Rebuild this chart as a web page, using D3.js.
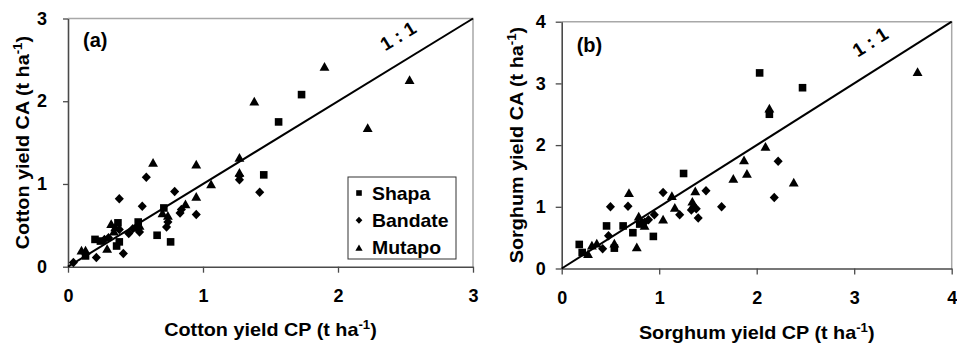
<!DOCTYPE html>
<html>
<head>
<meta charset="utf-8" />
<title>CA vs CP yields</title>
<script src="https://cdn.jsdelivr.net/npm/d3@7"></script>
<style>
  body { margin: 0; background: #fff; }
  text { font-family: Arial, "Liberation Sans", sans-serif; font-weight: bold; fill: #000; }
</style>
</head>
<body>
<svg id="chart" width="957" height="344"></svg>
<script>
// data: [CP yield, CA yield] in t/ha
var cottonShapa = [[0.13,0.13],[0.2,0.33],[0.24,0.31],[0.36,0.25],[0.37,0.53],[0.38,0.3],
  [0.52,0.54],[0.52,0.47],[0.66,0.38],[0.71,0.71],[0.76,0.3],[1.45,1.11],[1.56,1.75],[1.73,2.08]];
var cottonBandate = [[0.04,0.05],[0.21,0.11],[0.27,0.33],[0.3,0.35],[0.38,0.82],[0.41,0.16],
  [0.38,0.45],[0.45,0.4],[0.48,0.46],[0.53,0.42],[0.55,0.73],[0.58,1.08],[0.73,0.48],[0.74,0.54],
  [0.79,0.91],[0.83,0.65],[0.84,0.69],[0.95,0.63],[1.27,1.05],[1.27,1.1],[1.42,0.9]];
var cottonMutapo = [[0.1,0.2],[0.13,0.2],[0.29,0.22],[0.32,0.52],[0.34,0.43],[0.35,0.48],
  [0.53,0.5],[0.63,1.26],[0.7,0.65],[0.74,0.62],[0.87,0.76],[0.95,0.85],[0.95,1.24],[1.06,1.0],
  [1.27,1.32],[1.27,1.14],[1.38,2.0],[1.9,2.42],[2.22,1.68],[2.53,2.26]];

var sorghumShapa = [[0.18,0.39],[0.21,0.26],[0.46,0.69],[0.54,0.33],[0.63,0.69],[0.73,0.58],
  [0.8,0.72],[0.94,0.52],[1.25,1.54],[2.03,3.17],[2.13,2.5],[2.47,2.93]];
var sorghumBandate = [[0.42,0.32],[0.48,0.53],[0.5,1.0],[0.68,1.01],[0.85,0.75],[0.89,0.79],
  [0.95,0.87],[1.04,1.23],[1.21,0.87],[1.33,0.95],[1.38,0.97],[1.4,0.82],[1.48,1.26],[1.64,1.0],
  [2.18,1.15],[2.22,1.74]];
var sorghumMutapo = [[0.27,0.24],[0.31,0.38],[0.36,0.41],[0.54,0.41],[0.69,1.23],[0.77,0.35],
  [0.79,0.85],[0.82,0.76],[0.85,0.7],[1.04,0.8],[1.13,1.18],[1.16,0.99],[1.34,1.09],[1.35,1.04],
  [1.37,1.26],[1.76,1.46],[1.87,1.76],[1.9,1.54],[2.09,1.98],[2.13,2.6],[2.38,1.4],[3.65,3.19]];

var seriesNames = ['Shapa', 'Bandate', 'Mutapo'];
var cottonTicks = [0, 1, 2, 3];
var sorghumTicks = [0, 1, 2, 3, 4];

var svg = d3.select('#chart');

// marker shapes, drawn centred on 0,0
var shapes = {
  Shapa: function (s) { return 'M' + -s + ',' + -s + 'h' + 2 * s + 'v' + 2 * s + 'h' + -2 * s + 'z'; },
  Bandate: function (s) { var w = s * 1.2, h = s * 1.25; return 'M0,' + -h + 'L' + w + ',0L0,' + h + 'L' + -w + ',0z'; },
  Mutapo: function (s) { var w = s * 1.3, h = s * 1.15; return 'M0,' + -h + 'L' + w + ',' + h + 'L' + -w + ',' + h + 'z'; }
};

function drawPanel(p) {
  var g = svg.append('g');
  var scX = d3.scaleLinear().domain([0, p.max]).range([p.left, p.right]);
  var scY = d3.scaleLinear().domain([0, p.max]).range([p.bottom, p.top]);

  // light frame on top and right
  g.append('path')
    .attr('d', 'M' + p.left + ',' + p.top + 'H' + p.right + 'V' + p.bottom)
    .attr('fill', 'none').attr('stroke', '#a8a8a8').attr('stroke-width', 1.5);

  var axB = g.append('g').attr('transform', 'translate(0,' + p.bottom + ')')
    .call(d3.axisBottom(scX).tickValues(p.ticks).tickFormat(d3.format('d'))
      .tickSize(6).tickSizeOuter(0).tickPadding(17));
  var axL = g.append('g').attr('transform', 'translate(' + p.left + ',0)')
    .call(d3.axisLeft(scY).tickValues(p.ticks).tickFormat(d3.format('d'))
      .tickSize(p.ytick).tickSizeOuter(0).tickPadding(p.ypad));
  [axB, axL].forEach(function (a) {
    a.select('.domain').attr('stroke', '#4a4a4a').attr('stroke-width', 1.6);
    a.selectAll('.tick line').attr('stroke', '#4a4a4a').attr('stroke-width', 1.3);
    a.selectAll('.tick text').attr('font-size', 18).attr('font-family', null).attr('fill', '#000');
  });

  // 1:1 line
  g.append('path')
    .attr('d', d3.line().x((d) => scX(d)).y((d) => scY(d))([0, p.max]))
    .attr('stroke', '#000').attr('stroke-width', 2).attr('fill', 'none');
  var ang = Math.atan2(scY(0) - scY(p.max), scX(p.max) - scX(0)) * 180 / Math.PI;
  g.append('text')
    .attr('transform', 'translate(' + scX(p.lab[0]) + ',' + scY(p.lab[1]) + ') rotate(' + -ang + ')')
    .attr('text-anchor', 'middle').attr('font-size', 19).text('1 : 1');

  // points
  p.series.forEach(function (pts, i) {
    var name = seriesNames[i];
    g.append('g').selectAll('path').data(pts).enter().append('path')
      .attr('d', shapes[name](3.8))
      .attr('transform', (d) => 'translate(' + scX(d[0]) + ',' + scY(d[1]) + ')')
      .attr('fill', '#000');
  });

  // panel letter
  g.append('text').attr('x', p.left + p.tag[0]).attr('y', p.top + p.tag[1])
    .attr('font-size', 20).text(p.name);

  // axis titles
  var xt = g.append('text')
    .attr('transform', 'translate(' + (p.left + p.right) / 2 + ',' + p.xTitleY + ') scale(1.1,1)')
    .attr('text-anchor', 'middle').attr('font-size', 18);
  xt.append('tspan').text(p.crop + ' yield CP (t ha');
  xt.append('tspan').attr('dy', -7).attr('font-size', 12).text('-1');
  xt.append('tspan').attr('dy', 7).text(')');

  var yt = g.append('text')
    .attr('transform', 'translate(' + p.yTitleX + ',' + (p.top + p.bottom) / 2 + ') rotate(-90) scale(1.1,1)')
    .attr('text-anchor', 'middle').attr('font-size', 18);
  yt.append('tspan').text(p.crop + ' yield CA (t ha');
  yt.append('tspan').attr('dy', -7).attr('font-size', 12).text('-1');
  yt.append('tspan').attr('dy', 7).text(')');
  return g;
}

var gA = drawPanel({
  name: '(a)', crop: 'Cotton', max: 3, ticks: cottonTicks,
  left: 68, right: 473, top: 18.5, bottom: 266.7, ytick: 5, ypad: 16,
  series: [cottonShapa, cottonBandate, cottonMutapo],
  lab: [2.47, 2.72], tag: [15, 28], xTitleY: 336, yTitleX: 29
});
drawPanel({
  name: '(b)', crop: 'Sorghum', max: 4, ticks: sorghumTicks,
  left: 561.7, right: 951.7, top: 21.7, bottom: 268.5, ytick: 6, ypad: 10,
  series: [sorghumShapa, sorghumBandate, sorghumMutapo],
  lab: [3.2, 3.58], tag: [15, 30], xTitleY: 339, yTitleX: 523
});

// legend in panel (a)
var lg = gA.append('g').attr('transform', 'translate(348,177)');
lg.append('rect').attr('width', 108).attr('height', 82)
  .attr('fill', '#fff').attr('stroke', '#333').attr('stroke-width', 1);
seriesNames.forEach(function (name, i) {
  var y = 16 + i * 27.3;
  lg.append('path').attr('d', shapes[name](2.8)).attr('fill', '#000')
    .attr('transform', 'translate(11,' + y + ')');
  lg.append('text').attr('transform', 'translate(24,' + (y + 6.5) + ') scale(1.08,1)')
    .attr('font-size', 18).text(name);
});
</script>
</body>
</html>
